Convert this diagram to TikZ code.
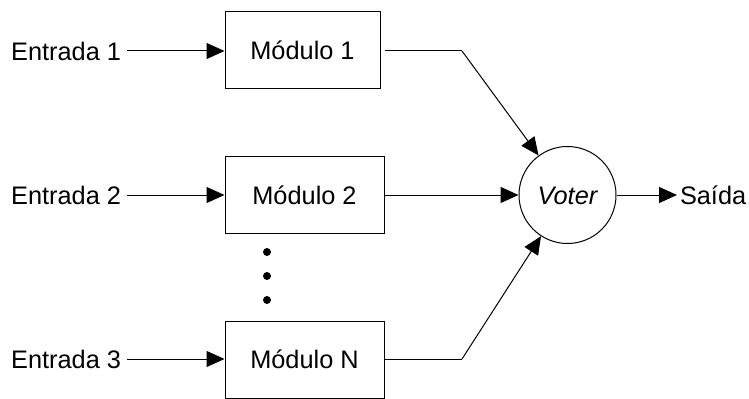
\documentclass[tikz,border=0pt]{standalone}
\usepackage{fontspec}
\setmainfont{Liberation Sans}
\usetikzlibrary{arrows.meta}
\begin{document}
\begin{tikzpicture}[x=0.75pt,y=-0.75pt,
  every node/.style={font=\fontsize{19}{22}\selectfont},
  modbox/.style={draw, line width=0.75pt, inner sep=0pt, text height=13.6pt, text depth=0pt},
  lbl/.style={inner sep=0pt, text height=13.6pt, text depth=0pt},
  conn/.style={line width=0.75pt, -{Triangle[length=13.5pt,width=12pt]}},
  wire/.style={line width=0.75pt},
  dotnode/.style={circle, fill, inner sep=0pt, minimum size=6pt}]
\useasboundingbox (0,0) rectangle (749,399);

\node[modbox, minimum width=116.25pt, minimum height=57.75pt] (box1) at (302.5,50.5) {Módulo 1};
\node[modbox, minimum width=119.25pt, minimum height=57pt] (box2) at (304.5,195) {Módulo 2};
\node[modbox, minimum width=119.25pt, minimum height=57.75pt] (boxN) at (304.5,359.5) {Módulo N};

\node[lbl, anchor=east, outer sep=4.5pt] (e1) at (127,51) {Entrada 1};
\node[lbl, anchor=east, outer sep=4.5pt] (e2) at (127,195) {Entrada 2};
\node[lbl, anchor=east, outer sep=4.5pt] (e3) at (127,359) {Entrada 3};

\node[draw, circle, line width=0.75pt, minimum size=72.75pt, inner sep=0pt, font=\fontsize{19}{22}\selectfont\itshape, text height=13.6pt, text depth=0pt] (v) at (567.5,195) {Voter};

\node[lbl, anchor=west, outer sep=2.25pt] (out) at (677,195) {Saída};

\node[dotnode] (d1) at (267,252) {};
\node[dotnode] (d2) at (267,276) {};
\node[dotnode] (d3) at (267,300) {};

\coordinate (b1) at (462,51);
\coordinate (bN) at (462,359);

\draw[conn] (e1.east) -- (e1.east -| box1.west);
\draw[conn] (e2.east) -- (e2.east -| box2.west);
\draw[conn] (e3.east) -- (e3.east -| boxN.west);

\draw[wire] ([xshift=3pt]box1.east |- b1) -- (b1);
\draw[conn] (b1) -- (v);
\draw[conn] (box2.east) -- (v.west);
\draw[wire] (boxN.east |- bN) -- (bN);
\draw[conn] (bN) -- (v);
\draw[conn] (v.east) -- (out.west);
\end{tikzpicture}
\end{document}
